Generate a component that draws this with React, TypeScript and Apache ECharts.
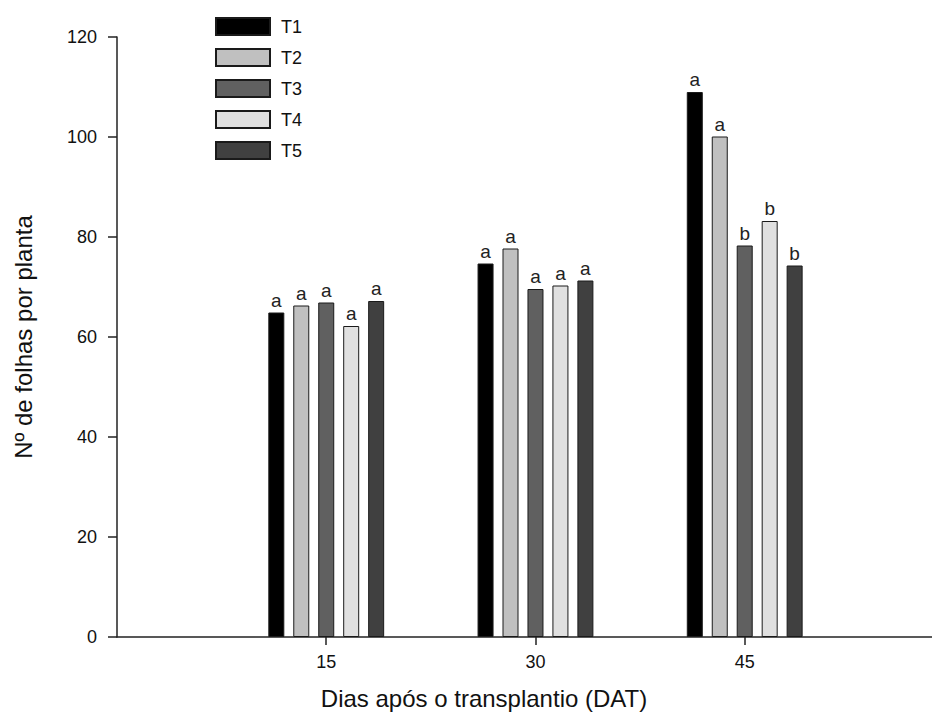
import React, { useEffect, useRef } from "react";
import * as echarts from "echarts";

const days = [15, 30, 45];
const seriesNames = ["T1", "T2", "T3", "T4", "T5"];
const t1 = [64.9, 74.7, 109.0];
const t2 = [66.3, 77.7, 100.1];
const t3 = [66.9, 69.6, 78.3];
const t4 = [62.2, 70.3, 83.2];
const t5 = [67.2, 71.3, 74.3];
const letters1 = ["a", "a", "a"];
const letters2 = ["a", "a", "a"];
const letters3 = ["a", "a", "b"];
const letters4 = ["a", "a", "b"];
const letters5 = ["a", "a", "b"];
const yTicks = [0, 20, 40, 60, 80, 100, 120];

const values = [t1, t2, t3, t4, t5];
const letters = [letters1, letters2, letters3, letters4, letters5];
const colors = ["#000000", "#c0c0c0", "#606060", "#e0e0e0", "#404040"];

export default function App() {
  const ref = useRef<HTMLDivElement>(null);
  useEffect(() => {
    if (!ref.current) return;
    const chart = echarts.init(ref.current, null, { renderer: "svg" });
    const font = "Liberation Sans, Arial, sans-serif";
    chart.setOption({
      animation: false,
      textStyle: { fontFamily: font },
      grid: { left: 117, right: 0, top: 37, bottom: 90, containLabel: false },
      legend: {
        orient: "vertical",
        left: 210,
        top: 12,
        itemWidth: 54,
        itemHeight: 17,
        itemGap: 12,
        icon: "rect",
        textStyle: { fontSize: 18, color: "#111", fontFamily: font, padding: [0, 0, 0, 6] },
        data: seriesNames,
      },
      xAxis: {
        type: "value",
        min: 0,
        max: 59,
        interval: 15,
        splitLine: { show: false },
        axisLine: { show: true, onZero: false, lineStyle: { color: "#222", width: 1.5 } },
        axisTick: { show: true, customValues: days, length: 8, lineStyle: { color: "#222", width: 1.5 } },
        axisLabel: { customValues: days, margin: 16, fontSize: 18, color: "#111", fontFamily: font },
      },
      yAxis: {
        type: "value",
        min: 0,
        max: 120,
        interval: 20,
        splitLine: { show: false },
        axisLine: { show: true, lineStyle: { color: "#222", width: 1.5 } },
        axisTick: { show: true, customValues: yTicks, length: 9, lineStyle: { color: "#222", width: 1.5 } },
        axisLabel: { customValues: yTicks, margin: 20, fontSize: 18, color: "#111", fontFamily: font },
        name: "Nº de folhas por planta",
        nameLocation: "middle",
        nameGap: 82,
        nameTextStyle: { fontSize: 24, color: "#111", fontFamily: font },
      },
      graphic: [
        {
          type: "text",
          x: 484,
          y: 698,
          style: {
            text: "Dias após o transplantio (DAT)",
            fontSize: 24,
            fill: "#111",
            fontFamily: font,
            textAlign: "center",
            textVerticalAlign: "middle",
          },
        },
      ],
      series: seriesNames.map((name, si) => ({
        name,
        type: "bar",
        barWidth: 16,
        barGap: "56%",
        data: days.map((d, i) => [d, values[si][i]]),
        itemStyle: { color: colors[si], borderColor: "#1a1a1a", borderWidth: 1 },
        label: {
          show: true,
          position: "top",
          distance: 3,
          fontSize: 19,
          color: "#222",
          fontFamily: font,
          formatter: (p: any) => letters[si][p.dataIndex],
        },
      })),
    });
    return () => chart.dispose();
  }, []);
  return <div ref={ref} style={{ width: 940, height: 727, margin: -8 }} />;
}
